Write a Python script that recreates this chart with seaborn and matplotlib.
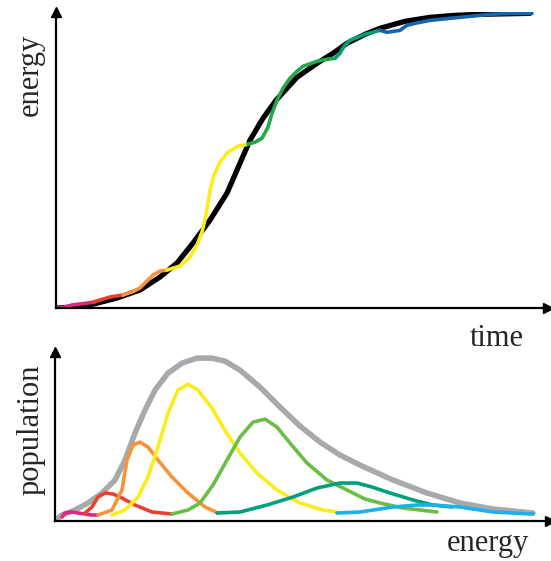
import matplotlib
matplotlib.use("Agg")
import matplotlib.pyplot as plt
import seaborn as sns

# top panel: energy vs time
black_t = [1, 19, 34, 61, 84, 104, 121, 137, 154, 171, 184, 194, 207, 220, 241,
           261, 277, 291, 309, 324, 349, 374, 399, 424, 474]
black_e = [0, 1, 3, 10, 18, 31, 45, 65, 88, 115, 145, 168, 190, 208, 231,
           245, 255, 265, 274, 280, 287, 291, 293, 294, 295]

pink_t = [1, 9, 16, 24, 32, 39]
pink_e = [0, 1, 3, 4, 5, 6]
red_t = [37, 44, 54, 67]
red_e = [6, 8, 11, 13]
orange_t = [67, 76, 84, 91, 97, 104, 111]
orange_e = [13, 16, 20, 27, 33, 37, 38]
yellow_t = [111, 124, 134, 141, 146, 150, 154, 158, 164, 172, 182, 192]
yellow_e = [38, 42, 51, 63, 76, 93, 118, 133, 146, 156, 162, 164]
green_t = [192, 199, 206, 212, 216, 221, 227, 234, 241, 247, 261, 271, 279]
green_e = [164, 166, 170, 181, 195, 208, 220, 230, 237, 242, 247, 249, 250]
teal_t = [279, 284, 288, 294, 309, 324]
teal_e = [250, 255, 262, 268, 274, 278]
blue_t = [324, 331, 344, 351, 359, 374, 394, 414, 434, 454, 476]
blue_e = [278, 276, 278, 283, 285, 288, 290, 292, 294, 295, 295]

# bottom panel: population vs energy
gray_x = [3, 7, 20, 33, 47, 60, 70, 80, 90, 100, 113, 127, 142, 157, 170, 185,
          205, 225, 245, 265, 285, 307, 338, 372, 405, 438, 478]
gray_p = [3, 6, 11, 18, 28, 41, 61, 88, 111, 131, 148, 158, 163, 163, 160, 151,
          134, 114, 95, 79, 66, 55, 41, 28, 18, 12, 8]
pop_pink_x = [7, 10, 17, 23, 30, 37, 43]
pop_pink_p = [4, 8, 9, 8, 7, 6, 6]
pop_red_x = [30, 37, 43, 50, 58, 67, 80, 97, 117]
pop_red_p = [8, 14, 24, 28, 27, 23, 16, 9, 7]
pop_orange_x = [43, 57, 67, 72, 78, 85, 93, 103, 117, 133, 150, 163]
pop_orange_p = [6, 11, 31, 61, 76, 79, 74, 61, 44, 28, 14, 8]
pop_yellow_x = [57, 70, 83, 93, 103, 113, 123, 133, 143, 157, 171, 185, 202,
                222, 245, 268, 282]
pop_yellow_p = [6, 11, 24, 44, 74, 108, 131, 137, 131, 113, 89, 68, 48,
                31, 18, 11, 9]
pop_green_x = [117, 133, 145, 158, 172, 185, 198, 210, 222, 235, 252, 272, 292,
               310, 325, 348, 382]
pop_green_p = [7, 11, 18, 36, 61, 84, 99, 102, 94, 78, 58, 41, 31,
               22, 18, 13, 9]
pop_teal_x = [162, 185, 212, 238, 262, 285, 302, 317, 332, 358, 378, 397]
pop_teal_p = [8, 9, 16, 24, 33, 38, 38, 34, 29, 21, 16, 14]
pop_cyan_x = [282, 305, 338, 362, 378, 405, 438, 478]
pop_cyan_p = [8, 9, 14, 16, 16, 14, 9, 7]

sns.set_style("white")
plt.rcParams['font.family'] = ['Liberation Serif', 'DejaVu Serif']

fig = plt.figure(figsize=(5.51, 5.61), dpi=100)
ax1 = fig.add_axes([0.1016, 0.451, 0.893, 0.527])
ax2 = fig.add_axes([0.0998, 0.0713, 0.8984, 0.301])

line_kw = dict(estimator=None, sort=False, legend=False,
               solid_capstyle='round', solid_joinstyle='round')

sns.lineplot(x=black_t, y=black_e, color='black', lw=3.8, ax=ax1, **line_kw)
for t, e, c in [(pink_t, pink_e, '#e8237f'), (red_t, red_e, '#e8412f'),
                (orange_t, orange_e, '#f7923a'), (yellow_t, yellow_e, '#fcec1c'),
                (green_t, green_e, '#22a84a'), (teal_t, teal_e, '#00a07c'),
                (blue_t, blue_e, '#1565b0')]:
    sns.lineplot(x=t, y=e, color=c, lw=2.6, ax=ax1, **line_kw)

sns.lineplot(x=gray_x, y=gray_p, color='#a7a9ac', lw=4.0, ax=ax2, **line_kw)
for x, p, c in [(pop_pink_x, pop_pink_p, '#e8237f'), (pop_red_x, pop_red_p, '#e8412f'),
                (pop_orange_x, pop_orange_p, '#f7923a'), (pop_yellow_x, pop_yellow_p, '#fcec1c'),
                (pop_green_x, pop_green_p, '#6abd45'), (pop_teal_x, pop_teal_p, '#00a07c'),
                (pop_cyan_x, pop_cyan_p, '#1ab2e8')]:
    sns.lineplot(x=x, y=p, color=c, lw=2.6, ax=ax2, **line_kw)

ax1.set_xlim(0, 492)
ax1.set_ylim(0, 296)
ax2.set_xlim(0, 495)
ax2.set_ylim(0, 169)

for ax in (ax1, ax2):
    ax.set_xticks([])
    ax.set_yticks([])
    ax.set_xlabel('')
    ax.set_ylabel('')
    for side in ('top', 'right'):
        ax.spines[side].set_visible(False)
    for side in ('left', 'bottom'):
        ax.spines[side].set_linewidth(1.6)
        ax.spines[side].set_color('black')
    ax.plot(1, 0, '>k', ms=7, transform=ax.get_yaxis_transform(), clip_on=False)
    ax.plot(0, 1, '^k', ms=7, transform=ax.get_xaxis_transform(), clip_on=False)
    ax.patch.set_alpha(0)

fig.text(30 / 551, 1 - 75 / 561, 'energy', rotation=90, fontsize=22, ha='center', va='center')
fig.text(497 / 551, 1 - 338 / 561, 'time', fontsize=22, ha='center', va='center')
fig.text(31 / 551, 1 - 430 / 561, 'population', rotation=90, fontsize=22, ha='center', va='center')
fig.text(488 / 551, 1 - 543 / 561, 'energy', fontsize=22, ha='center', va='center')

fig.savefig('out.png', dpi=100)
